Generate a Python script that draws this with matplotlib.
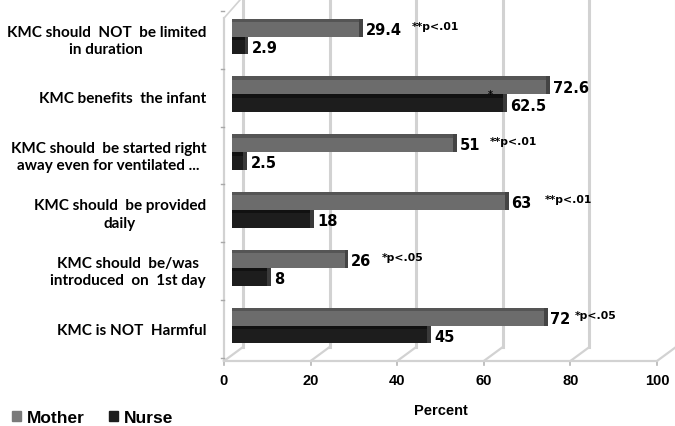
import matplotlib
matplotlib.use("Agg")
import matplotlib.pyplot as plt
from matplotlib.patches import Rectangle

# data, top to bottom as in the chart
categories = [
    "KMC should  NOT  be limited\nin duration",
    "KMC benefits  the infant",
    "KMC should  be started right\naway even for ventilated ...",
    "KMC should  be provided\ndaily",
    "KMC should  be/was\nintroduced  on  1st day",
    "KMC is NOT  Harmful",
]
mother = [29.4, 72.6, 51, 63, 26, 72]
nurse = [2.9, 62.5, 2.5, 18, 8, 45]
mother_labels = ["29.4", "72.6", "51", "63", "26", "72"]
nurse_labels = ["2.9", "62.5", "2.5", "18", "8", "45"]
significance = ["**p<.01", "", "**p<.01", "**p<.01", "*p<.05", "*p<.05"]
x_ticks = [0, 20, 40, 60, 80, 100]

# colours
c_mother = "#6c6c6c"
c_mother_top = "#555555"
c_mother_cap = "#444444"
c_nurse = "#1d1d1d"
c_nurse_top = "#111111"
c_nurse_cap = "#3a3a3a"
c_grid = "#d2d2d2"

fig = plt.figure(figsize=(6.75, 4.27), dpi=100)
ax = fig.add_axes([232 / 675, 72 / 427, 433 / 675, 355 / 427])
ax.set_xlim(0, 100)
ax.set_ylim(5.493, -0.649)
ax.axis("off")

# fake 3D depth (in data units)
back_dx, back_dy = 2.54, -0.121
front_dx, front_dy = -1.85, 0.121
floor = 5.493
top = -0.52
h = 0.31
cap = 0.9

# back wall gridlines
for v in x_ticks:
    ax.plot([v + back_dx, v + back_dx], [top + back_dy, floor + back_dy],
            color=c_grid, lw=2.2, clip_on=False, zorder=1)
    # floor diagonals
    ax.plot([v + front_dx, v + back_dx], [floor + front_dy, floor + back_dy],
            color=c_grid, lw=1.6, clip_on=False, zorder=1)
    ax.plot([v + front_dx, v + front_dx], [floor + front_dy, floor + front_dy + 0.07],
            color="#b5b5b5", lw=1.2, clip_on=False, zorder=1)
    ax.text(v + front_dx, floor + 0.45, str(v), ha="center", va="center",
            fontsize=10.5, fontweight="bold", family="Liberation Sans")

# floor front edge, left wall
ax.plot([front_dx, 100 + front_dx], [floor + front_dy, floor + front_dy],
        color=c_grid, lw=1.6, clip_on=False, zorder=1)
ax.plot([front_dx, front_dx], [top + front_dy + 0.08, floor + front_dy],
        color=c_grid, lw=1.6, clip_on=False, zorder=1)
ax.plot([front_dx, back_dx], [top + front_dy + 0.08, top + back_dy - 0.05],
        color=c_grid, lw=1.2, clip_on=False, zorder=1)
for i in range(len(categories) + 1):
    yb = i - 0.5 + 0.06
    ax.plot([front_dx - 0.7, front_dx], [yb, yb], color="#a8a8a8", lw=1,
            clip_on=False, zorder=1)

ax.text(50 + front_dx, floor + 0.97, "Percent", ha="center", va="center",
        fontsize=10.5, fontweight="bold", family="Liberation Sans")

# bars
sig_gap = [12.2, 0, 8.6, 9.3, 8.6, 7.2]
for i, cat in enumerate(categories):
    ym = i - h / 2
    yn = i + h / 2
    ax.barh(ym, mother[i], height=h, color=c_mother, zorder=3)
    ax.barh(ym - h / 2 + 0.03, mother[i], height=0.06, color=c_mother_top, zorder=4)
    ax.barh(ym, cap, left=mother[i], height=h, color=c_mother_cap, zorder=3)
    ax.barh(yn, nurse[i], height=h, color=c_nurse, zorder=3)
    ax.barh(yn - h / 2 + 0.03, nurse[i], height=0.06, color=c_nurse_top, zorder=4)
    ax.barh(yn, cap, left=nurse[i], height=h, color=c_nurse_cap, zorder=3)

    ax.text(mother[i] + 1.5, ym + 0.03, mother_labels[i], ha="left", va="center",
            fontsize=10.5, fontweight="bold", zorder=5)
    ax.text(nurse[i] + 1.8, yn + 0.03, nurse_labels[i], ha="left", va="center",
            fontsize=10.5, fontweight="bold", zorder=5)
    if significance[i]:
        ax.text(mother[i] + sig_gap[i], ym - 0.03, significance[i], ha="left",
                va="center", fontsize=7.8, fontweight="bold", zorder=5)

    ax.text(-6.0, i + 0.07, cat, ha="right", va="center", multialignment="center",
            fontsize=11, fontweight="bold", family="Lato", linespacing=1.3)

# small asterisk over nurse bar of "benefits the infant"
ax.text(59.6, 1.0, "*", ha="center", va="center", fontsize=7, fontweight="bold", zorder=5)

handles = [Rectangle((0, 0), 1, 1, color="#7a7a7a"), Rectangle((0, 0), 1, 1, color=c_nurse)]
fig.legend(handles, ["Mother", "Nurse"], loc="lower left", bbox_to_anchor=(-0.005, -0.035),
           ncol=2, frameon=False, handlelength=0.5, handleheight=0.5, handletextpad=0.35,
           columnspacing=1.4, prop={"family": "Liberation Sans", "weight": "bold", "size": 12.5})

fig.savefig("out.png", dpi=100)
